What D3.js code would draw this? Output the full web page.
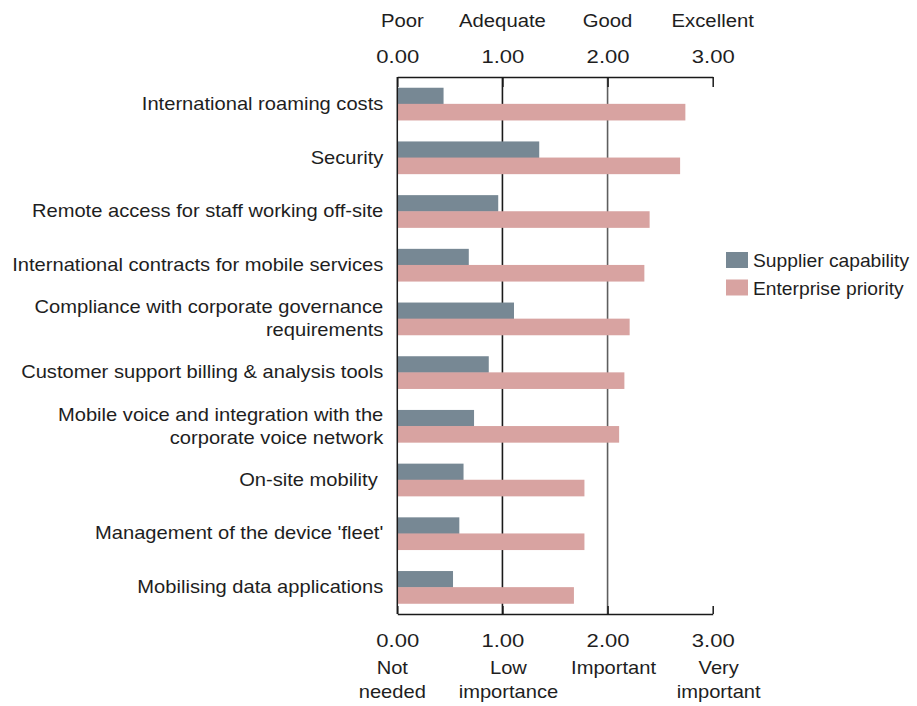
<!DOCTYPE html>
<html>
<head>
<meta charset="utf-8">
<script src="https://cdn.jsdelivr.net/npm/d3@7"></script>
<style>
  html, body { margin: 0; padding: 0; background: #fff; }
  svg text { font-family: Arial, "Liberation Sans", sans-serif; fill: #1e1e1e; }
</style>
</head>
<body>
<svg id="chart" width="917" height="706"></svg>
<script>
// Requirement areas, top to bottom; "\n" breaks a label onto two lines
const categories = [
  "International roaming costs",
  "Security",
  "Remote access for staff working off-site",
  "International contracts for mobile services",
  "Compliance with corporate governance\nrequirements",
  "Customer support billing & analysis tools",
  "Mobile voice and integration with the\ncorporate voice network",
  "On-site mobility ",
  "Management of the device 'fleet'",
  "Mobilising data applications"
];
const seriesNames = ["Supplier capability", "Enterprise priority"];
const supplierCapability = [0.44, 1.35, 0.96, 0.68, 1.11, 0.87, 0.73, 0.63, 0.59, 0.53];
const enterprisePriority = [2.74, 2.69, 2.40, 2.35, 2.21, 2.16, 2.11, 1.78, 1.78, 1.68];
const tickValues = [0, 1, 2, 3];
const capabilityTickLabels = ["Poor", "Adequate", "Good", "Excellent"];
const priorityTickLabels = [["Not", "needed"], ["Low", "importance"], ["Important"], ["Very", "important"]];
const seriesColors = ["#778894", "#d8a3a1"];

const svg = d3.select("#chart");
const plot = { left: 397.3, right: 712.7, top: 77, bottom: 614 };
const fontSize = 17.5;

// Text is set in a slightly widened face
function widened(sel, sx) {
  return sel.attr("transform", function() {
    const base = d3.select(this).attr("data-pos");
    return `translate(${base}) scale(${sx},1)`;
  });
}

const x = d3.scaleLinear().domain([0, 3]).range([plot.left, plot.right]);
const y = d3.scaleBand().domain(categories).range([plot.top, plot.bottom])
  .paddingInner(0.4).paddingOuter(0.2);
const sub = d3.scaleBand().domain(seriesNames).range([0, y.bandwidth()]);
const color = d3.scaleOrdinal().domain(seriesNames).range(seriesColors);

const rows = categories.map((c, i) => ({
  category: c,
  values: [
    { series: seriesNames[0], value: supplierCapability[i] },
    { series: seriesNames[1], value: enterprisePriority[i] }
  ]
}));

// Gridlines at 1.00 and 2.00
svg.append("g").selectAll("line")
  .data([1, 2]).join("line")
  .attr("x1", d => x(d)).attr("x2", d => x(d))
  .attr("y1", plot.top).attr("y2", plot.bottom)
  .attr("stroke", d => d === 1 ? "#1a1a1a" : "#5e5e5e")
  .attr("stroke-width", 1.6);

// Bars
const groups = svg.append("g").selectAll("g")
  .data(rows).join("g")
  .attr("transform", d => `translate(0,${y(d.category)})`);
groups.selectAll("rect")
  .data(d => d.values).join("rect")
  .attr("x", x(0))
  .attr("y", d => sub(d.series))
  .attr("width", d => x(d.value) - x(0))
  .attr("height", sub.bandwidth() + 0.5)
  .attr("fill", d => color(d.series));

// Left baseline
svg.append("line")
  .attr("x1", x(0)).attr("x2", x(0))
  .attr("y1", plot.top).attr("y2", plot.bottom)
  .attr("stroke", "#1a1a1a").attr("stroke-width", 1.5);

// Top and bottom axes
const fmt = d3.format(".2f");
const topAxis = svg.append("g")
  .attr("transform", `translate(0,${plot.top})`)
  .call(d3.axisTop(x).tickValues(tickValues).tickFormat(fmt).tickSize(-10).tickSizeOuter(0));
const bottomAxis = svg.append("g")
  .attr("transform", `translate(0,${plot.bottom})`)
  .call(d3.axisBottom(x).tickValues(tickValues).tickFormat(fmt).tickSize(-8).tickSizeOuter(0));

[topAxis, bottomAxis].forEach(ax => {
  ax.select(".domain").attr("stroke", "#1a1a1a").attr("stroke-width", 1.5);
  ax.selectAll(".tick line").attr("stroke", "#1a1a1a").attr("stroke-width", 1.5);
  ax.selectAll(".tick text")
    .attr("font-size", fontSize).attr("fill", "#1e1e1e")
    .attr("font-family", "Arial, 'Liberation Sans', sans-serif")
    .attr("y", null).attr("dy", null);
});
topAxis.selectAll(".tick text").attr("data-pos", "0,-14").call(widened, 1.26);
bottomAxis.selectAll(".tick text").attr("data-pos", "0,33").call(widened, 1.26);

// Capability scale words above the top axis
svg.append("g").selectAll("text")
  .data(tickValues).join("text")
  .attr("data-pos", d => `${x(d) + (d === 0 ? 5 : 0)},27`)
  .attr("text-anchor", "middle")
  .attr("font-size", fontSize)
  .text((d, i) => capabilityTickLabels[i])
  .call(widened, 1.16);

// Priority scale words below the bottom axis
const prio = svg.append("g").selectAll("g")
  .data(tickValues).join("g")
  .attr("transform", d => `translate(${x(d) + (d === 0 ? -5 : 6)},0)`);
prio.selectAll("text")
  .data((d, i) => priorityTickLabels[i]).join("text")
  .attr("data-pos", (t, j) => `0,${674 + j * 24}`)
  .attr("text-anchor", "middle")
  .attr("font-size", fontSize)
  .text(t => t)
  .call(widened, 1.15);

// Category labels, right aligned against the chart
const labels = svg.append("g").selectAll("g")
  .data(categories).join("g")
  .attr("transform", d => `translate(${plot.left - 14},${y(d) + y.bandwidth() / 2})`);
labels.each(function(d) {
  const lines = d.split("\n");
  const g = d3.select(this);
  lines.forEach((line, j) => {
    g.append("text")
      .attr("data-pos", `0,${(j - (lines.length - 1) / 2) * 23 + 6}`)
      .attr("text-anchor", "end")
      .attr("font-size", fontSize)
      .style("white-space", "pre")
      .text(line)
      .call(widened, 1.15);
  });
});

// Legend
const legend = svg.append("g").selectAll("g")
  .data(seriesNames).join("g")
  .attr("transform", (d, i) => `translate(726,${252 + i * 27.5})`);
legend.append("rect")
  .attr("width", 22).attr("height", 16)
  .attr("fill", d => color(d));
legend.append("text")
  .attr("data-pos", "27,15")
  .attr("font-size", fontSize)
  .text(d => d)
  .call(widened, 1.1);
</script>
</body>
</html>
